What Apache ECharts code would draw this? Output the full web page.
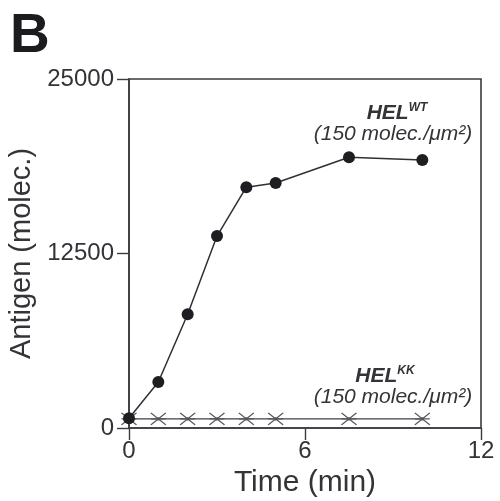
<!DOCTYPE html>
<html>
<head>
<meta charset="utf-8">
<script src="https://cdn.jsdelivr.net/npm/echarts@6/dist/echarts.min.js"></script>
<style>html,body{margin:0;padding:0;background:#fff}#c{width:500px;height:501px}</style>
</head>
<body>
<div id="c"></div>
<script>
var times = [0, 1, 2, 3, 4, 5, 7.5, 10];
var helWT = [700, 3300, 8150, 13750, 17250, 17550, 19400, 19200];
var helKK = [650, 650, 650, 650, 650, 650, 650, 650];
var xTicks = [0, 6, 12];
var yTicks = [0, 12500, 25000];
var panelLabel = 'B';
var xName = 'Time (min)';
var yName = 'Antigen (molec.)';
var wtName = 'HEL';
var wtSup = 'WT';
var kkName = 'HEL';
var kkSup = 'KK';
var densityText = '(150 molec./\u03bcm\u00b2)';

var ff = '"Liberation Sans", Arial, Helvetica, sans-serif';
var ink = '#333338';
var chart = echarts.init(document.getElementById('c'), null, {renderer: 'canvas'});

function pairs(xs, ys) { return xs.map(function (x, i) { return [x, ys[i]]; }); }

var rich = {
  h: {fontFamily: ff, fontSize: 21, fontWeight: 'bold', fontStyle: 'italic', fill: ink, color: ink},
  s: {fontFamily: ff, fontSize: 12, fontWeight: 'bold', fontStyle: 'italic', fill: ink, color: ink, verticalAlign: 'top', padding: [0, 0, 10, 0]}
};

chart.setOption({
  animation: false,
  backgroundColor: '#ffffff',
  grid: {left: 129, right: 19, top: 79, bottom: 73, containLabel: false, outerBoundsMode: 'none', show: true, borderColor: '#3a3a42', borderWidth: 1.6, backgroundColor: 'transparent'},
  xAxis: {
    type: 'value', min: xTicks[0], max: xTicks[xTicks.length - 1], interval: xTicks[1] - xTicks[0],
    name: xName, nameLocation: 'middle', nameGap: 37,
    nameTextStyle: {fontFamily: ff, fontSize: 30, color: ink},
    axisLine: {show: true, lineStyle: {color: '#3a3a42', width: 1.6}},
    axisTick: {show: true, inside: false, length: 12, lineStyle: {color: '#3a3a42', width: 1.4}},
    axisLabel: {fontFamily: ff, fontSize: 24, color: ink, margin: 11, formatter: function (v) { return String(v); }},
    splitLine: {show: false}
  },
  yAxis: {
    type: 'value', min: yTicks[0], max: yTicks[yTicks.length - 1], interval: yTicks[1] - yTicks[0],
    name: yName, nameLocation: 'middle', nameGap: 88, nameRotate: 90,
    nameTextStyle: {fontFamily: ff, fontSize: 29, color: ink},
    axisLine: {show: true, lineStyle: {color: '#3a3a42', width: 1.6}},
    axisTick: {show: true, inside: false, length: 12, lineStyle: {color: '#3a3a42', width: 1.4}},
    axisLabel: {fontFamily: ff, fontSize: 24, color: ink, margin: 15, formatter: function (v) { return String(v); }},
    splitLine: {show: false}
  },
  series: [
    {
      type: 'line', name: 'HEL KK', data: pairs(times, helKK),
      symbol: 'path://M0,0L14,12M14,0L0,12M0,6L14,6M6,5L8,5L8,7L6,7Z', symbolSize: [15, 12],
      lineStyle: {color: '#3f3f46', width: 1.3},
      itemStyle: {color: '#333', borderColor: '#55555c', borderWidth: 1.3},
      z: 2
    },
    {
      type: 'line', name: 'HEL WT', data: pairs(times, helWT),
      symbol: 'circle', symbolSize: 12,
      lineStyle: {color: '#303036', width: 1.5},
      itemStyle: {color: '#1e1e22', borderWidth: 0},
      z: 3
    }
  ],
  graphic: [
    {type: 'text', left: 10, top: 9, style: {text: panelLabel, fontFamily: ff, fontSize: 55, fontWeight: 'bold', fill: '#1c1c1e'}},
    {type: 'text', x: 397, y: 113, style: {text: '{h|' + wtName + '}{s|' + wtSup + '}', rich: rich, align: 'center', verticalAlign: 'middle'}},
    {type: 'text', x: 393, y: 134, style: {text: densityText, fontFamily: ff, fontSize: 21, fontStyle: 'italic', fill: ink, align: 'center', verticalAlign: 'middle'}},
    {type: 'text', x: 385, y: 376, style: {text: '{h|' + kkName + '}{s|' + kkSup + '}', rich: rich, align: 'center', verticalAlign: 'middle'}},
    {type: 'text', x: 393, y: 397, style: {text: densityText, fontFamily: ff, fontSize: 21, fontStyle: 'italic', fill: ink, align: 'center', verticalAlign: 'middle'}}
  ]
});
</script>
</body>
</html>
